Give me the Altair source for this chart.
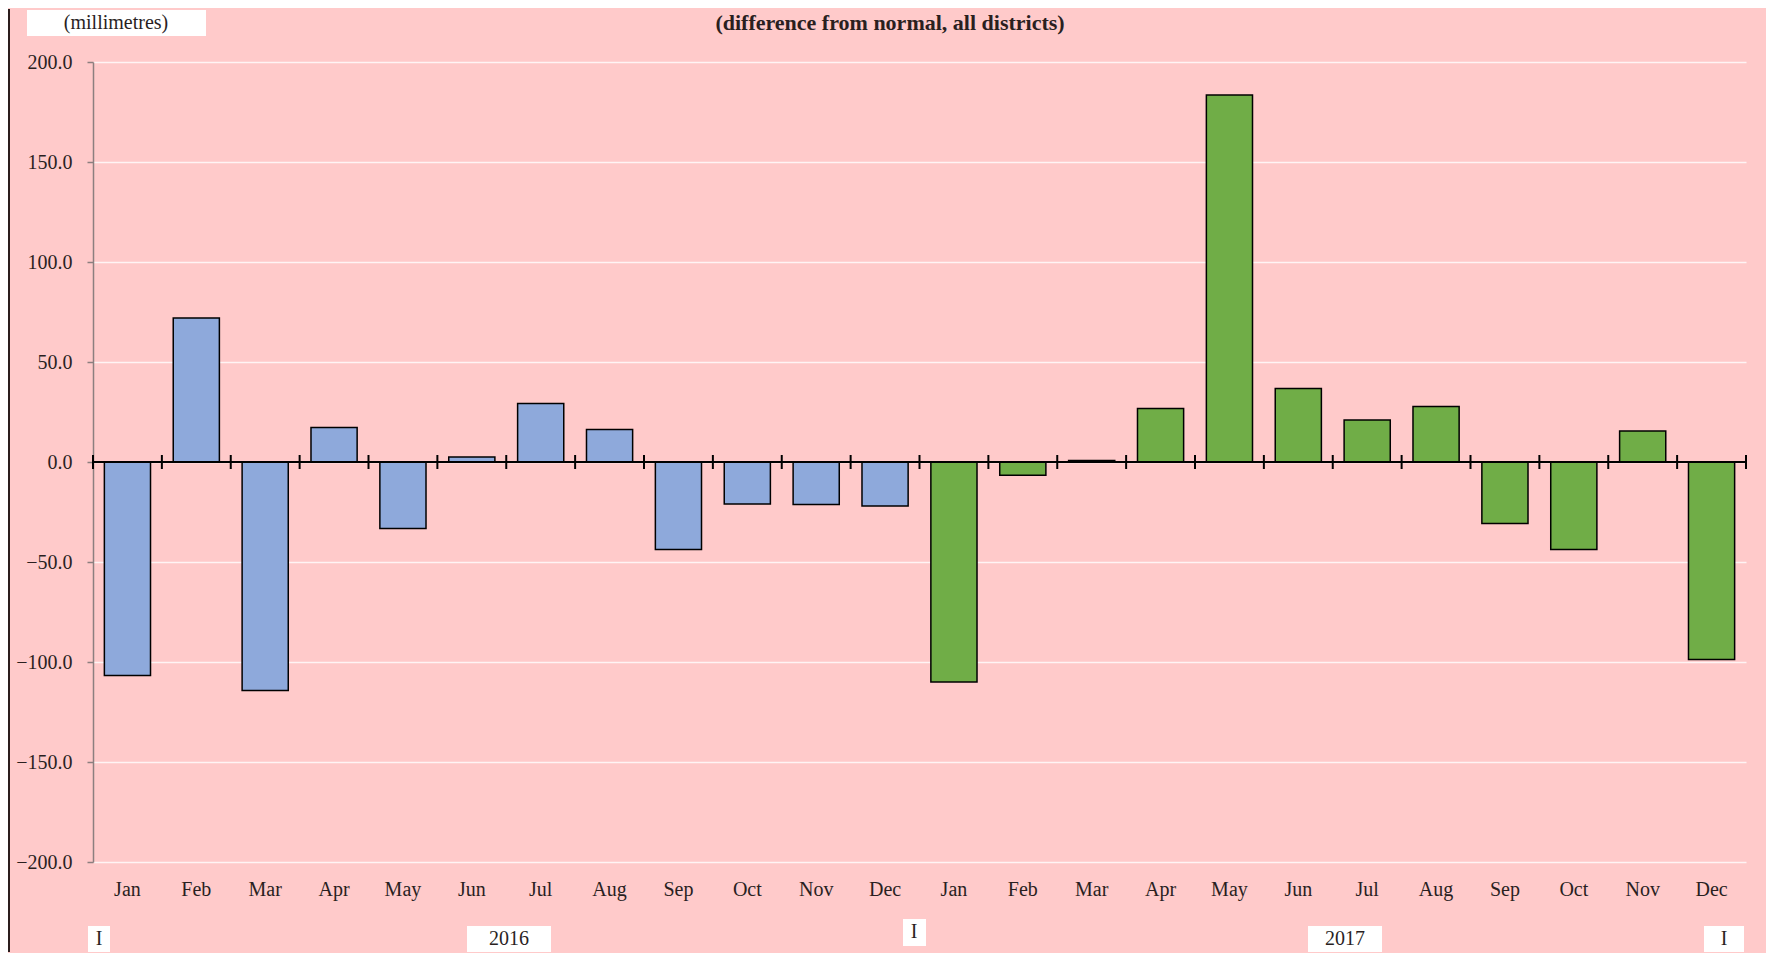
import altair as alt
import pandas as pd

# ---------------- data ----------------
months = ["Jan", "Feb", "Mar", "Apr", "May", "Jun", "Jul", "Aug", "Sep", "Oct", "Nov", "Dec"]
years = ["2016", "2017"]
values_2016 = [-106.8, 72.0, -114.2, 17.2, -33.2, 2.5, 29.2, 16.3, -43.7, -21.0, -21.2, -22.0]
values_2017 = [-110.0, -6.6, 0.8, 26.7, 183.5, 36.7, 21.0, 27.7, -30.8, -43.7, 15.5, -98.7]
y_ticks = [-200, -150, -100, -50, 0, 50, 100, 150, 200]
bar_colors = ["#8EA9DB", "#70AD47"]
title_text = "(difference from normal, all districts)"
unit_text = "(millimetres)"
bottom_texts = ["I", "2016", "I", "2017", "I"]

SERIF = "Liberation Serif"
TEXT = "#2a1f1f"
BG = "#FFCACA"

PLOT_W = 1653
PLOT_H = 800
PAD_INNER = 0.33
PAD_OUTER = 0.165

rows = []
for yr, vals in zip(years, [values_2016, values_2017]):
    for m, v in zip(months, vals):
        rows.append({"key": f"{yr}-{m}", "month": m, "year": yr, "value": v})
df = pd.DataFrame(rows)
order = list(df["key"])
zero_df = pd.DataFrame({"v": [0]})
one = pd.DataFrame({"d": [0]})

# half of the gap between bars (pixels) -> tick marks sit between the bars
step = PLOT_W / (len(order) - PAD_INNER + 2 * PAD_OUTER)
half_gap = PAD_INNER * step / 2

x_scale = alt.Scale(paddingInner=PAD_INNER, paddingOuter=PAD_OUTER)
y_scale = alt.Scale(domain=[-200, 200], nice=False, zero=False)

bars = alt.Chart(df).mark_bar(stroke="black", strokeWidth=1.5).encode(
    x=alt.X(
        "key:N", sort=order, scale=x_scale,
        axis=alt.Axis(
            title=None, labelExpr="split(datum.value, '-')[1]", ticks=False, tickSize=0,
            domain=False, labelAngle=0, labelPadding=17, labelFontSize=20,
            labelFont=SERIF, labelColor=TEXT, grid=False,
        ),
    ),
    y=alt.Y(
        "value:Q", scale=y_scale,
        axis=alt.Axis(
            values=y_ticks, format=".1f", title=None, domainColor="#8C7F7F",
            domainWidth=1.5, tickColor="#8C7F7F", tickSize=6, tickWidth=1.5,
            labelPadding=15, labelFontSize=20, labelFont=SERIF, labelColor=TEXT,
            grid=True, gridColor="#FFF4F4", gridWidth=1.5,
        ),
    ),
    color=alt.Color("year:N", scale=alt.Scale(domain=years, range=bar_colors), legend=None),
)

zero_line = alt.Chart(zero_df).mark_rule(color="black", strokeWidth=2).encode(
    y=alt.Y("v:Q", scale=y_scale)
)

cross_ticks = alt.Chart(df).mark_rule(
    color="black", strokeWidth=2, yOffset=-7, y2Offset=7, xOffset=-half_gap
).encode(
    x=alt.X("key:N", sort=order, bandPosition=0),
    y=alt.datum(0),
    y2=alt.datum(0),
)
end_tick = alt.Chart(df.tail(1)).mark_rule(
    color="black", strokeWidth=2, yOffset=-7, y2Offset=7, xOffset=half_gap
).encode(
    x=alt.X("key:N", sort=order, bandPosition=1),
    y=alt.datum(0),
    y2=alt.datum(0),
)


def box(x1, x2, y1, y2):
    return alt.Chart(one).mark_rect(fill="white").encode(
        x=alt.value(x1), x2=alt.value(x2), y=alt.value(y1), y2=alt.value(y2)
    )


def label(txt, x, y, size, bold=False):
    return alt.Chart(one).mark_text(
        text=txt, font=SERIF, fontSize=size, fontWeight="bold" if bold else "normal",
        color=TEXT, align="center", baseline="middle",
    ).encode(x=alt.value(x), y=alt.value(y))


border = alt.Chart(one).mark_rule(color="#2b1d1d", strokeWidth=2).encode(
    x=alt.value(-84), y=alt.value(-53), y2=alt.value(890)
)

annots = [
    box(-66, 113, -52, -26), label(unit_text, 23, -39, 20),
    label(title_text, 797, -39, 22, bold=True),
    box(-5, 17, 864, 890), label(bottom_texts[0], 6, 877, 20),
    box(374, 458, 864, 890), label(bottom_texts[1], 416, 877, 20),
    box(810, 833, 857, 884), label(bottom_texts[2], 821, 870, 20),
    box(1215, 1289, 864, 890), label(bottom_texts[3], 1252, 877, 20),
    box(1611, 1651, 864, 890), label(bottom_texts[4], 1631, 877, 20),
]

chart = alt.layer(bars, zero_line, cross_ticks, end_tick, border, *annots).properties(
    width=PLOT_W, height=PLOT_H,
    padding={"left": 0, "top": 0, "right": 18, "bottom": 0},
    background=BG,
).configure_view(strokeWidth=0)

chart.save("out.html", embed_options={"renderer": "svg", "actions": False})
